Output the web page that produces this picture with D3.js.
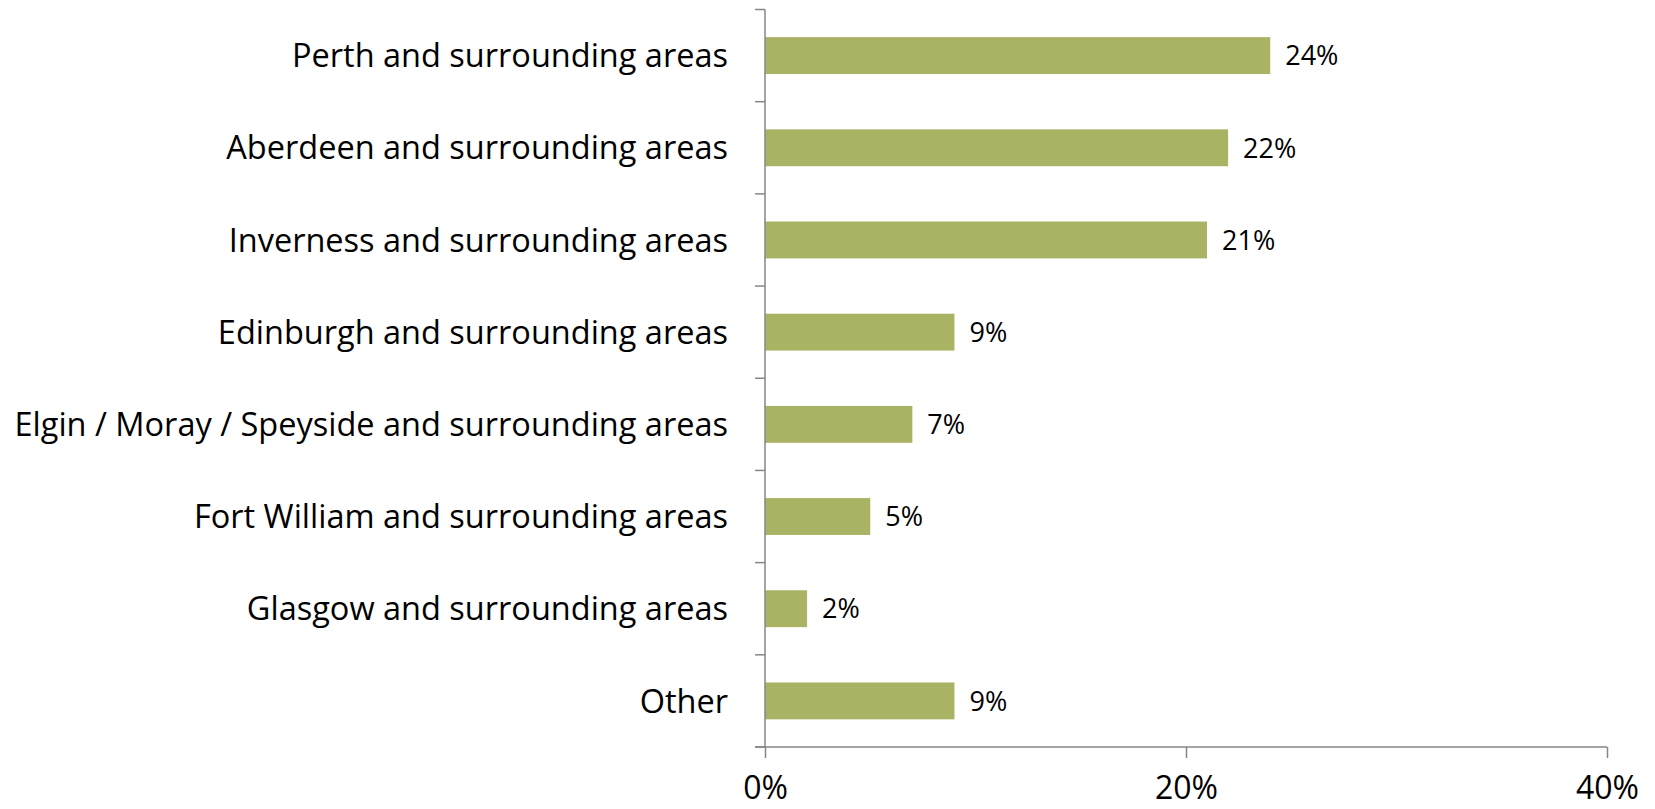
<!DOCTYPE html>
<html>
<head>
<meta charset="utf-8">
<script src="https://cdn.jsdelivr.net/npm/d3@7"></script>
<style>
  html, body { margin: 0; padding: 0; background: #fff; }
  svg { display: block; }
  text { font-family: "Open Sans", Lato, sans-serif; fill: #000; }
</style>
</head>
<body>
<svg id="chart" width="1655" height="809"></svg>
<script>
// Regions and share of respondents (%)
const categories = [
  "Perth and surrounding areas",
  "Aberdeen and surrounding areas",
  "Inverness and surrounding areas",
  "Edinburgh and surrounding areas",
  "Elgin / Moray / Speyside and surrounding areas",
  "Fort William and surrounding areas",
  "Glasgow and surrounding areas",
  "Other"
];
const values = [24, 22, 21, 9, 7, 5, 2, 9];
const xTicks = [0, 20, 40];

(function () {
  const svg = d3.select("#chart");
  const plotLeft = 765, plotRight = 1607, plotTop = 9.5, plotBottom = 747;
  const axisColor = "#868686";
  const barColor = "#AAB363";

  const x = d3.scaleLinear().domain([0, 40]).range([plotLeft, plotRight]);
  const y = d3.scaleBand().domain(categories).range([plotTop, plotBottom])
    .paddingInner(0.6).paddingOuter(0.3);
  const band = (plotBottom - plotTop) / categories.length;

  // Bars
  svg.append("g").selectAll("rect")
    .data(categories)
    .join("rect")
    .attr("x", x(0))
    .attr("y", d => y(d))
    .attr("width", (d, i) => x(values[i]) - x(0))
    .attr("height", y.bandwidth())
    .attr("fill", barColor);

  // Value labels
  svg.append("g").selectAll("text")
    .data(categories)
    .join("text")
    .attr("x", (d, i) => x(values[i]) + 15)
    .attr("y", d => y(d) + y.bandwidth() / 2)
    .attr("dy", "0.36em")
    .style("font-size", "27px")
    .text((d, i) => values[i] + "%");

  // Category axis: line with ticks on band boundaries
  const yAxis = svg.append("g");
  yAxis.append("line")
    .attr("x1", plotLeft).attr("x2", plotLeft)
    .attr("y1", plotTop).attr("y2", plotBottom)
    .attr("stroke", axisColor).attr("stroke-width", 1.5);
  yAxis.selectAll("line.tick")
    .data(d3.range(categories.length + 1))
    .join("line")
    .attr("class", "tick")
    .attr("x1", plotLeft - 10).attr("x2", plotLeft)
    .attr("y1", i => plotTop + i * band).attr("y2", i => plotTop + i * band)
    .attr("stroke", axisColor).attr("stroke-width", 1.5);
  yAxis.selectAll("text")
    .data(categories)
    .join("text")
    .attr("x", plotLeft - 37)
    .attr("y", d => y(d) + y.bandwidth() / 2)
    .attr("dy", "0.36em")
    .attr("text-anchor", "end")
    .style("font-size", "32.5px")
    .text(d => d);

  // Value axis
  const xAxis = d3.axisBottom(x)
    .tickValues(xTicks)
    .tickFormat(d => d + "%")
    .tickSizeInner(11)
    .tickSizeOuter(0)
    .tickPadding(18);
  const gx = svg.append("g")
    .attr("transform", `translate(0,${plotBottom})`)
    .call(xAxis);
  gx.select(".domain").attr("stroke", axisColor).attr("stroke-width", 1.5)
    .attr("d", `M${plotLeft - 10},0H${plotRight}`);
  gx.selectAll(".tick line").attr("stroke", axisColor).attr("stroke-width", 1.5);
  gx.selectAll(".tick text")
    .style("font-size", "32px")
    .style("font-family", "'Open Sans', Lato, sans-serif")
    .attr("fill", "#000");
})();
</script>
</body>
</html>
